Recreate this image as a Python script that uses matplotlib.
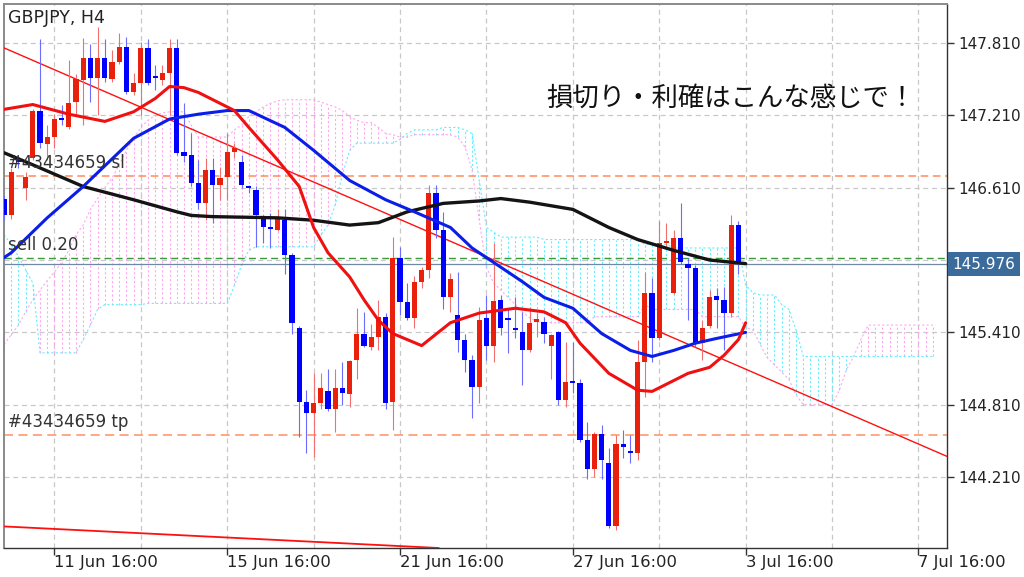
import numpy as np
import matplotlib
matplotlib.use("Agg")
import matplotlib.pyplot as plt
from matplotlib.transforms import blended_transform_factory

# H4 bars, index 0 = 11 Jun 16:00 (weekends skipped)
first_bar = -7
opens = [146.52, 146.38, 146.84, 146.61, 146.86, 147.25, 146.97, 147.03, 147.19, 147.11,
         147.32, 147.50, 147.69, 147.52, 147.69, 147.51, 147.65, 147.78, 147.40, 147.48,
         147.77, 147.53, 147.50, 147.56, 147.77, 146.91, 146.88, 146.65, 146.48, 146.76,
         146.63, 146.70, 146.91, 146.82, 146.62, 146.59, 146.36, 146.28, 146.26, 146.34,
         146.05, 145.45, 144.83, 144.74, 144.82, 144.92, 144.77, 144.95, 144.90, 145.18,
         145.40, 145.29, 145.37, 145.54, 144.83, 146.03, 145.66, 145.53, 145.83, 145.93,
         146.57, 146.26, 145.70, 145.55, 145.35, 145.18, 144.96, 145.53, 145.30, 145.68,
         145.53, 145.45, 145.41, 145.26, 145.50, 145.50, 145.30, 145.41, 144.85, 145.00,
         144.99, 144.52, 144.28, 144.57, 144.33, 143.80, 144.48, 144.42, 144.41, 145.16,
         145.74, 145.36, 146.15, 145.74, 146.19, 145.98, 145.94, 145.32, 145.46, 145.71,
         145.68, 145.57, 146.30]
highs = [146.55, 146.77, 146.88, 146.74, 147.26, 147.84, 147.13, 147.22, 147.30, 147.67,
         147.55, 147.85, 147.80, 147.94, 147.84, 147.75, 147.89, 147.86, 147.56, 147.82,
         147.84, 147.63, 147.63, 147.84, 147.84, 147.31, 147.06, 146.84, 146.86, 146.86,
         146.78, 147.06, 146.98, 146.88, 146.63, 146.62, 146.38, 146.40, 146.43, 146.43,
         146.07, 145.46, 144.93, 145.07, 145.07, 145.11, 145.11, 145.16, 145.18, 145.61,
         145.58, 145.48, 145.68, 145.57, 146.20, 146.12, 145.82, 145.88, 145.95, 146.63,
         146.63, 146.41, 145.90, 145.91, 145.40, 145.22, 145.62, 145.72, 146.15, 145.72,
         145.61, 145.70, 145.58, 145.62, 145.57, 145.54, 145.40, 145.42, 145.33, 145.33,
         145.02, 144.67, 144.58, 144.64, 144.45, 144.56, 144.60, 144.56, 145.35, 145.91,
         145.86, 146.33, 146.32, 146.26, 146.48, 146.03, 145.97, 145.51, 145.76, 145.78,
         145.79, 146.38, 146.33]
lows = [146.34, 146.35, 146.77, 146.51, 146.84, 146.94, 146.84, 146.94, 147.13, 147.10,
        147.21, 147.13, 147.32, 147.21, 147.49, 147.49, 147.64, 147.39, 147.38, 147.21,
        147.46, 147.42, 147.46, 147.21, 146.88, 146.82, 146.62, 146.43, 146.34, 146.32,
        146.51, 146.51, 146.86, 146.61, 146.57, 146.12, 146.15, 146.11, 146.25, 145.89,
        145.40, 144.54, 144.41, 144.38, 144.77, 144.76, 144.58, 144.81, 144.79, 145.02,
        145.29, 145.26, 145.26, 144.77, 144.60, 145.55, 145.51, 145.45, 145.78, 145.86,
        146.19, 145.60, 145.58, 145.25, 145.08, 144.70, 144.82, 145.18, 145.16, 145.39,
        145.24, 145.36, 144.97, 145.25, 145.37, 145.32, 145.02, 144.81, 144.79, 144.91,
        144.50, 144.19, 144.21, 144.19, 143.79, 143.77, 144.37, 144.33, 144.35, 144.87,
        145.16, 145.35, 146.12, 145.73, 145.98, 145.51, 145.29, 145.18, 145.45, 145.45,
        145.26, 145.54, 145.89]
closes = [146.38, 146.74, 146.82, 146.70, 147.25, 146.98, 147.03, 147.18, 147.17, 147.31,
          147.51, 147.69, 147.52, 147.69, 147.52, 147.65, 147.78, 147.40, 147.48, 147.77,
          147.48, 147.52, 147.56, 147.77, 146.90, 146.87, 146.65, 146.48, 146.76, 146.63,
          146.69, 146.91, 146.94, 146.63, 146.61, 146.38, 146.28, 146.27, 146.36, 146.05,
          145.49, 144.83, 144.74, 144.82, 144.95, 144.77, 144.95, 144.91, 145.17, 145.40,
          145.30, 145.37, 145.54, 144.82, 146.03, 145.66, 145.53, 145.83, 145.93, 146.57,
          146.26, 145.70, 145.85, 145.35, 145.18, 144.96, 145.51, 145.30, 145.67, 145.45,
          145.51, 145.43, 145.26, 145.49, 145.52, 145.40, 145.39, 144.85, 145.00, 144.99,
          144.52, 144.28, 144.57, 144.35, 143.80, 144.48, 144.46, 144.41, 145.16, 145.74,
          145.36, 146.15, 146.16, 146.19, 145.99, 145.94, 145.32, 145.45, 145.70, 145.68,
          145.57, 146.30, 145.976]

# moving averages (bar index, price)
ma_slow_x = [-7, -3, 4, 11, 17, 19, 22, 31, 36, 41, 45, 49, 54, 59, 62, 66, 72, 77, 81, 86, 91, 96]
ma_slow_y = [146.90, 146.80, 146.62, 146.51, 146.41, 146.38, 146.37, 146.36, 146.34, 146.30, 146.32,
             146.41, 146.48, 146.50, 146.52, 146.49, 146.43, 146.28, 146.18, 146.09, 146.01, 145.98]
ma_mid_x = [-7, -6, -1, 4, 11, 16, 20, 24, 27, 32, 36, 41, 46, 50, 55, 58, 61, 65, 68, 72, 76, 80,
            83, 86, 89, 92, 96]
ma_mid_y = [146.03, 146.07, 146.36, 146.62, 147.02, 147.18, 147.22, 147.25, 147.25, 147.11, 146.92,
            146.67, 146.51, 146.41, 146.28, 146.11, 145.99, 145.83, 145.70, 145.61, 145.40, 145.26,
            145.21, 145.26, 145.32, 145.36, 145.41]
ma_fast_x = [-7, -3, 2, 7, 11, 14, 16, 18, 20, 25, 27, 31, 34, 36, 38, 41, 43, 45, 47, 51, 55, 59,
             64, 68, 71, 73, 77, 81, 83, 88, 91, 93, 95, 96]
ma_fast_y = [147.26, 147.30, 147.22, 147.16, 147.24, 147.35, 147.45, 147.44, 147.40, 147.25, 147.11,
             146.84, 146.62, 146.28, 146.07, 145.87, 145.68, 145.51, 145.40, 145.30, 145.49, 145.57,
             145.61, 145.58, 145.49, 145.32, 145.07, 144.93, 144.92, 145.07, 145.12, 145.22, 145.35,
             145.49]

# ichimoku cloud, one value per bar from index -7 to 122
span_a = [146.22, 146.14, 146.04, 145.93, 145.82, 145.24, 145.24, 145.24, 145.24, 145.24,
          145.24, 145.35, 145.47, 145.60, 145.64, 145.64, 145.64, 145.64, 145.64, 145.64,
          145.65, 145.65, 145.65, 145.65, 145.65, 145.65, 145.65, 145.65, 145.65, 145.65,
          145.65, 145.65, 145.80, 145.97, 146.09, 146.12, 146.12, 146.12, 146.12, 146.12,
          146.12, 146.12, 146.12, 146.12, 146.22, 146.30, 146.47, 146.72, 146.92, 146.98,
          146.98, 146.98, 146.98, 146.98, 146.98, 147.01, 147.06, 147.09, 147.09, 147.09,
          147.09, 147.11, 147.11, 147.11, 147.09, 147.06, 146.67, 146.28, 146.24, 146.20,
          146.20, 146.20, 146.20, 146.20, 146.20, 146.18, 146.18, 146.18, 146.18, 146.18,
          146.18, 146.18, 146.18, 146.18, 146.18, 146.18, 146.18, 146.18, 146.18, 146.14,
          146.14, 146.14, 146.14, 146.11, 146.11, 146.11, 146.11, 146.11, 146.11, 146.11,
          146.11, 146.11, 146.11, 145.80, 145.74, 145.72, 145.72, 145.72, 145.64, 145.60,
          145.43, 145.21, 145.21, 145.21, 145.21, 145.21, 145.21, 145.21, 145.21, 145.21,
          145.21, 145.21, 145.21, 145.21, 145.21, 145.21, 145.21, 145.21, 145.21, 145.21]
span_b = [145.31, 145.39, 145.47, 145.58, 145.68, 145.76, 145.84, 145.91, 145.99, 146.09,
          146.22, 146.30, 146.43, 146.52, 146.61, 146.69, 146.80, 146.92, 147.02, 147.11,
          147.17, 147.21, 147.23, 147.24, 147.24, 147.24, 147.13, 147.03, 147.03, 147.03,
          147.03, 147.03, 147.09, 147.13, 147.20, 147.24, 147.28, 147.31, 147.33, 147.34,
          147.34, 147.34, 147.34, 147.34, 147.32, 147.30, 147.28, 147.25, 147.20, 147.17,
          147.15, 147.15, 147.11, 147.06, 147.05, 147.03, 147.03, 147.05, 147.05, 147.05,
          147.05, 147.05, 147.05, 147.03, 146.95, 146.76, 146.34, 145.95, 145.82, 145.76,
          145.70, 145.64, 145.58, 145.53, 145.50, 145.49, 145.49, 145.49, 145.49, 145.49,
          145.49, 145.49, 145.54, 145.54, 145.54, 145.54, 145.54, 145.54, 145.54, 145.64,
          145.60, 145.60, 145.60, 145.60, 145.60, 145.60, 145.60, 145.54, 145.54, 145.54,
          145.54, 145.54, 145.54, 145.45, 145.43, 145.31, 145.20, 145.14, 145.08, 145.02,
          144.89, 144.81, 144.81, 144.81, 144.81, 144.81, 144.93, 145.10, 145.21, 145.35,
          145.47, 145.47, 145.47, 145.47, 145.47, 145.47, 145.47, 145.47, 145.47, 145.47]

# trend lines: two points each (bar index, price)
trend_main = [(-7, 147.77), (124, 144.38)]
trend_low = [(-7, 143.80), (52, 143.625)]

sl_price = 146.71
sell_price = 146.03
bid_price = 145.976
tp_price = 144.56

price_ticks = [147.81, 147.21, 146.61, 146.01, 145.41, 144.81, 144.21]
date_ticks = [0, 24, 48, 72, 96, 120]
date_labels = ["11 Jun 16:00", "15 Jun 16:00", "21 Jun 16:00", "27 Jun 16:00",
               "3 Jul 16:00", "7 Jul 16:00"]

UP, DOWN = "#e8200c", "#0000ff"
PINK, CYAN = "#ffa8f0", "#66eeff"

fig = plt.figure(figsize=(10.24, 5.77), dpi=100)
ax = fig.add_axes([4 / 1024, 29 / 577, 943 / 1024, 544 / 577])
ax.set_xlim(-7.0, 123.96)
ax.set_ylim(143.621, 148.134)

# grid
for gx in range(0, 124, 12):
    ax.axvline(gx, color="#c8c8c8", lw=0.9, ls=(0, (4, 3)), zorder=0)
for gy in price_ticks:
    ax.axhline(gy, color="#c8c8c8", lw=0.9, ls=(0, (4, 3)), zorder=0)

# cloud
cx = np.arange(first_bar, first_bar + len(span_a))
sa, sb = np.array(span_a), np.array(span_b)
ccol = [CYAN if a >= b else PINK for a, b in zip(sa, sb)]
ax.vlines(cx, np.minimum(sa, sb), np.maximum(sa, sb), colors=ccol, lw=0.8,
          linestyles=(0, (2, 2)), zorder=1)
ax.plot(cx, sa, color=CYAN, lw=0.8, ls=(0, (2, 2)), zorder=1)
ax.plot(cx, sb, color=PINK, lw=0.8, ls=(0, (2, 2)), zorder=1)

# order lines
ax.axhline(sl_price, color="#ff8a5c", lw=1.1, ls=(0, (5, 3)), zorder=2)
ax.axhline(sell_price, color="#3a9a3a", lw=1.0, ls=(0, (5, 3)), zorder=2)
ax.axhline(bid_price, color="#7088a8", lw=0.9, zorder=2)
ax.axhline(tp_price, color="#ffa07a", lw=1.3, ls=(0, (5, 3)), zorder=2)

# trend lines
ax.axline(trend_main[0], trend_main[1], color="#ff1010", lw=1.0, zorder=3)
ax.axline(trend_low[0], trend_low[1], color="#ff1010", lw=1.3, zorder=3)

# candles
o, h, l, c = map(np.array, (opens, highs, lows, closes))
bx = np.arange(first_bar, first_bar + len(o))
col = np.where(c >= o, UP, DOWN)
wick = np.where(c >= o, "#f07070", "#6c6cff")
ax.vlines(bx, l, h, colors=wick, lw=0.8, zorder=3)
body = np.maximum(np.abs(c - o), 0.018)
ax.bar(bx, body, bottom=np.minimum(o, c), width=0.72, color=col, lw=0, zorder=3.5)

# moving averages
ax.plot(ma_slow_x, ma_slow_y, color="#141414", lw=2.4, solid_capstyle="round", zorder=4)
ax.plot(ma_mid_x, ma_mid_y, color="#0a1ee8", lw=2.2, solid_capstyle="round", zorder=4)
ax.plot(ma_fast_x, ma_fast_y, color="#f01010", lw=2.2, solid_capstyle="round", zorder=4)

# axes styling
for s in ("left", "top"):
    ax.spines[s].set_color("#8a8a8a")
    ax.spines[s].set_linewidth(1.4)
for s in ("right", "bottom"):
    ax.spines[s].set_color("#333333")
    ax.spines[s].set_linewidth(1.0)
ax.yaxis.tick_right()
ax.set_yticks(price_ticks)
ax.set_yticklabels(["" if abs(p - 146.01) < 1e-6 else f"{p:.3f}" for p in price_ticks])
ax.set_xticks(date_ticks)
ax.set_xticklabels(date_labels, ha="left")
ax.tick_params(axis="y", length=5, width=1, color="#333333", labelsize=11, labelcolor="#222222", pad=3)
ax.tick_params(axis="x", length=5, width=1, color="#333333", labelsize=11.8, labelcolor="#222222", pad=0)

# texts
ax.text(0.004, 0.975, "GBPJPY, H4", transform=ax.transAxes, fontsize=12.5, color="#222222",
        ha="left", va="center")
ax.text(-6.4, sl_price + 0.03, "#43434659 sl", fontsize=12, color="#333333", ha="left", va="bottom", zorder=5)
ax.text(-6.4, sell_price + 0.03, "sell 0.20", fontsize=12, color="#333333", ha="left", va="bottom", zorder=5)
ax.text(-6.4, tp_price + 0.03, "#43434659 tp", fontsize=12, color="#333333", ha="left", va="bottom", zorder=5)
ax.text(94.0, 147.35, "損切り・利確はこんな感じで！", fontsize=19, color="#111111",
        family=["Noto Sans CJK JP", "DejaVu Sans"], ha="center", va="center", zorder=5)

tr = blended_transform_factory(ax.transAxes, ax.transData)
ax.text(1.006, bid_price, "145.976", transform=tr, fontsize=11, color="white", ha="left",
        va="center", zorder=6, clip_on=False,
        bbox=dict(boxstyle="square,pad=0.28", fc="#3b6b9b", ec="none"))

fig.savefig("out.png", dpi=100)
